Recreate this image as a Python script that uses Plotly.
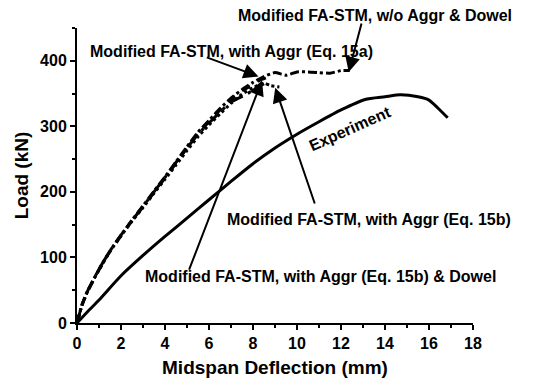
import plotly.graph_objects as go

# Experiment
exp_x = [0, 0.5, 1, 2, 3, 4, 5, 6, 7, 8, 9, 10, 11, 12, 13.1, 14, 14.7, 15.5, 16, 16.4, 16.85]
exp_y = [0, 18, 35, 72, 103, 132, 160, 188, 216, 243, 267, 288, 307, 325, 341, 345, 348, 345, 340, 328, 313]

# Modified FA-STM, w/o Aggr & Dowel
a_x = [0, 0.25, 0.5, 1, 1.5, 2, 2.5, 3, 3.5, 4, 4.5, 5, 5.5, 6, 6.5, 7, 7.5, 8, 8.5, 9, 9.5, 10, 10.5, 11, 11.5, 12, 12.4]
a_y = [0, 30, 50, 82, 110, 134, 157, 179, 201, 223, 246, 269, 291, 309, 327, 343, 356, 367, 376, 382, 378, 383, 383, 382, 381, 385, 385]

# Modified FA-STM, with Aggr (Eq. 15a)
b_x = [0, 0.25, 0.5, 1, 1.5, 2, 2.5, 3, 3.5, 4, 4.5, 5, 5.5, 6, 6.5, 7, 7.5, 8, 8.3, 8.6]
b_y = [0, 29, 49, 81, 109, 133, 156, 177, 199, 221, 244, 267, 289, 307, 325, 341, 354, 364, 370, 374]

# Modified FA-STM, with Aggr (Eq. 15b)
c_x = [0, 0.25, 0.5, 1, 1.5, 2, 2.5, 3, 3.5, 4, 4.5, 5, 5.5, 6, 6.5, 7, 7.5, 8, 8.5, 8.8, 9.2]
c_y = [0, 30, 50, 81, 109, 133, 155, 176, 198, 219, 241, 263, 284, 302, 319, 335, 349, 359, 366, 362, 360]

# Modified FA-STM, with Aggr (Eq. 15b) & Dowel
d_x = [0, 0.25, 0.5, 1, 1.5, 2, 2.5, 3, 3.5, 4, 4.5, 5, 5.5, 6, 6.5, 7, 7.65, 8, 8.5]
d_y = [0, 30, 50, 82, 110, 134, 156, 178, 200, 222, 245, 267, 288, 305, 322, 337, 348, 355, 365]

FONT = "Liberation Sans, Arial, sans-serif"

fig = go.Figure()
fig.add_trace(go.Scatter(x=exp_x, y=exp_y, mode="lines", line=dict(color="black", width=3, shape="spline", smoothing=0.6)))
fig.add_trace(go.Scatter(x=a_x, y=a_y, mode="lines", line=dict(color="black", width=3, dash="dashdot", shape="spline", smoothing=0.5)))
fig.add_trace(go.Scatter(x=b_x, y=b_y, mode="lines", line=dict(color="black", width=3, dash="dash", shape="spline", smoothing=0.5)))
fig.add_trace(go.Scatter(x=c_x, y=c_y, mode="lines", line=dict(color="black", width=3, dash="dot", shape="spline", smoothing=0.5)))
fig.add_trace(go.Scatter(x=d_x, y=d_y, mode="lines", line=dict(color="black", width=3, dash="longdashdot", shape="spline", smoothing=0.5)))

ann_font = dict(family=FONT, size=16, color="black", weight="bold")

# arrows: (head x, head y, tail x, tail y)
arrows = [
    (12.35, 383, 12.95, 459),
    (8.25, 376, 5.83, 406),
    (9.01, 359, 10.83, 180),
    (8.41, 370, 5.07, 79),
]
for hx, hy, tx, ty in arrows:
    fig.add_annotation(x=hx, y=hy, ax=tx, ay=ty, xref="x", yref="y", axref="x", ayref="y",
                       text="", showarrow=True, arrowhead=2, arrowsize=1.5, arrowwidth=2,
                       arrowcolor="black", standoff=0, startstandoff=0)

labels = [
    ("Modified FA-STM, w/o Aggr & Dowel", 0.753, 1.043),
    ("Modified FA-STM, with Aggr (Eq. 15a)", 0.390, 0.919),
    ("Modified FA-STM, with Aggr (Eq. 15b)", 0.738, 0.350),
    ("Modified FA-STM, with Aggr (Eq. 15b) & Dowel", 0.616, 0.158),
]
for t, x, y in labels:
    fig.add_annotation(x=x, y=y, xref="paper", yref="paper", text=t, showarrow=False,
                       font=ann_font, xanchor="center", yanchor="middle")

fig.add_annotation(x=0.690, y=0.660, xref="paper", yref="paper", text="Experiment", showarrow=False,
                   font=ann_font, textangle=-24, xanchor="center", yanchor="middle")

axis_common = dict(showline=True, linecolor="black", linewidth=2, ticks="outside", ticklen=5,
                   tickwidth=2, tickcolor="black", showgrid=False, zeroline=False,
                   tickfont=dict(family=FONT, size=16, color="black", weight="bold"),
                   mirror=False)

title_font = dict(family=FONT, size=19, color="black", weight="bold")
fig.update_xaxes(range=[0, 18], dtick=2, tick0=0,
                 minor=dict(dtick=1, ticks="outside", ticklen=3, tickwidth=2, tickcolor="black"),
                 title=dict(text="Midspan Deflection (mm)", font=title_font, standoff=9),
                 **axis_common)
fig.update_yaxes(range=[0, 450], dtick=100, tick0=0,
                 minor=dict(dtick=50, ticks="outside", ticklen=3, tickwidth=2, tickcolor="black"),
                 title=dict(text="Load (kN)", font=title_font, standoff=6),
                 **axis_common)

fig.update_layout(width=536, height=390, margin=dict(l=77, r=63, t=28, b=67),
                  plot_bgcolor="white", paper_bgcolor="white", showlegend=False,
                  font=dict(family=FONT, color="black"))

fig.write_html("out.html")
